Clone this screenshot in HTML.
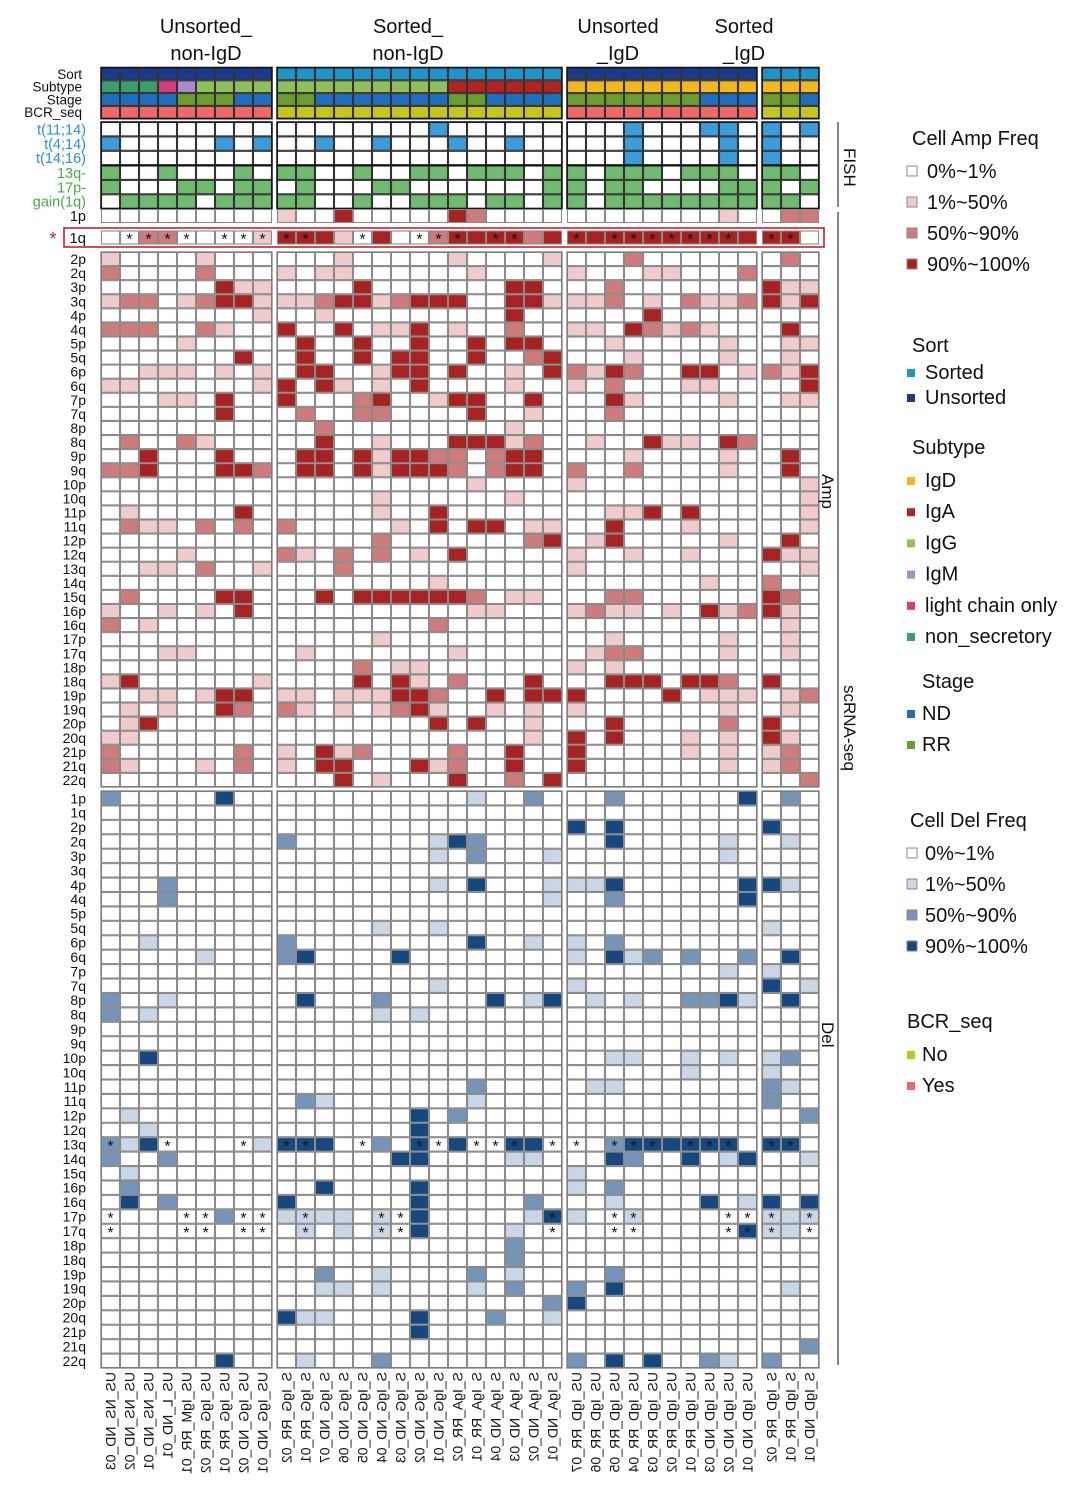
<!DOCTYPE html>
<html><head><meta charset="utf-8">
<style>
html,body{margin:0;padding:0;background:#fff;}
svg{display:block;font-family:"Liberation Sans",Arial,sans-serif;}
</style></head>
<body>
<svg id="chart" width="1083" height="1494" viewBox="0 0 1083 1494" xmlns="http://www.w3.org/2000/svg">
  <g id="titles" font-size="20" text-anchor="middle" fill="#111">
    <text x="206" y="33">Unsorted_</text>
    <text x="206" y="60">non-IgD</text>
    <text x="408" y="33">Sorted_</text>
    <text x="408" y="60">non-IgD</text>
    <text x="618" y="33">Unsorted</text>
    <text x="618" y="60">_IgD</text>
    <text x="744" y="33">Sorted</text>
    <text x="744" y="60">_IgD</text>
  </g>
  <g id="cells"></g>
  <g id="labels"></g>
  <g id="side" font-size="17" fill="#111">
    <line x1="838" y1="122" x2="838" y2="207" stroke="#333" stroke-width="1.2"/>
    <line x1="838" y1="212" x2="838" y2="1365" stroke="#333" stroke-width="1.2"/>
    <text transform="translate(844,148) rotate(90)">FISH</text>
    <text transform="translate(822,474) rotate(90)">Amp</text>
    <text transform="translate(822,1022) rotate(90)">Del</text>
    <text transform="translate(844,685) rotate(90)">scRNA-seq</text>
  </g>
  <rect x="64" y="228" width="760" height="19" fill="none" stroke="#c8202a" stroke-width="1.6"/>
  <text x="53" y="245" fill="#c8202a" font-size="18" text-anchor="middle">*</text>
  <g id="legend"></g>
</svg>
<script>
// ---- data ----
const samples = ["US_NS_ND_03","US_NS_ND_02","US_NS_ND_01","US_L_ND_01","US_IgM_RR_01","US_IgG_RR_02","US_IgG_RR_01","US_IgG_ND_02","US_IgG_ND_01",
"S_IgG_RR_02","S_IgG_RR_01","S_IgG_ND_07","S_IgG_ND_06","S_IgG_ND_05","S_IgG_ND_04","S_IgG_ND_03","S_IgG_ND_02","S_IgG_ND_01","S_IgA_RR_02","S_IgA_RR_01","S_IgA_ND_04","S_IgA_ND_03","S_IgA_ND_02","S_IgA_ND_01",
"US_IgD_RR_07","US_IgD_RR_06","US_IgD_RR_05","US_IgD_RR_04","US_IgD_RR_03","US_IgD_RR_02","US_IgD_RR_01","US_IgD_ND_03","US_IgD_ND_02","US_IgD_ND_01",
"S_IgD_RR_02","S_IgD_RR_01","S_IgD_ND_01"];
const groupSizes = [9,15,10,3];
const sortAnno = "UUUUUUUUU"+"SSSSSSSSSSSSSSS"+"UUUUUUUUUU"+"SSS";
const subtypeAnno = "NNNLMGGGG"+"GGGGGGGGGAAAAAA"+"DDDDDDDDDD"+"DDD";
const stageAnno = "NNNNRRRNN"+"RRNNNNNNNRRNNNN"+"RRRRRRRNNN"+"RRN";
const bcrAnno = "YYYYYYYYY"+"NNNNNNNNNNNNNNN"+"YYYYYYYYYY"+"NNN";
const fishLabels = ["t(11;14)","t(4;14)","t(14;16)"];
const fishRows = [
 "000000000"+"000000001000000"+"0001000110"+"101",
 "100000101"+"001001000100100"+"0001000010"+"100",
 "000000000"+"000000000000000"+"0001000010"+"100"];
const cnaFishLabels = ["13q-","17p-","gain(1q)"];
const cnaFishRows = [
 "100100010"+"110010011011101"+"1011101110"+"110",
 "100011011"+"010001100000001"+"1011000011"+"101",
 "011110111"+"110010011101101"+"1011111111"+"110"];
const amp1pRow = "000000000"+"100300000320000"+"0000000010"+"022";
const amp1qRow = "002200001"+"333103002333323"+"3333333333"+"330";
const amp1qStars = [1,2,3,4,6,7,8,9,10,13,16,17,18,20,21,24,26,27,28,29,30,31,32,34,35];
const ampLabels = ["2p","2q","3p","3q","4p","4q","5p","5q","6p","6q","7p","7q","8p","8q","9p","9q","10p","10q","11p","11q","12p","12q","13q","14q","15q","16p","16q","17p","17q","18p","18q","19p","19q","20p","20q","21p","21q","22q"];
const ampLevels = [
"100001000"+"000100000100001"+"0002000000"+"020",
"200002000"+"101100000010000"+"1000110002"+"000",
"000000311"+"000030000000330"+"0020000000"+"311",
"122012331"+"112331233300331"+"1120102112"+"313",
"000000001"+"001000000000300"+"0000300000"+"000",
"222002100"+"300301130100200"+"1103212100"+"030",
"000010000"+"030030030030330"+"0010000010"+"011",
"000000030"+"030030330030023"+"0001000010"+"010",
"001110101"+"033001330300103"+"2132003301"+"213",
"110000001"+"303101030000100"+"1020001100"+"003",
"000110300"+"300023001330030"+"0031000010"+"011",
"000000300"+"020022000030010"+"0020000000"+"000",
"000000000"+"002000000000100"+"0000000000"+"000",
"020021000"+"003001000333120"+"0100311032"+"000",
"003000300"+"033031332202330"+"0001000010"+"030",
"223000332"+"033031333202330"+"2002000010"+"030",
"000000000"+"000000000010000"+"1000000000"+"001",
"000000000"+"000001000000100"+"0000000000"+"001",
"010000030"+"000001003000000"+"0011303000"+"001",
"021102020"+"200000103033011"+"0030001000"+"001",
"000000000"+"000002000000023"+"0130000010"+"030",
"000010000"+"210202010300000"+"1001001000"+"311",
"001102001"+"000200000000000"+"1000000000"+"001",
"000000000"+"000000001000000"+"0000000100"+"200",
"020000330"+"003033333320110"+"0022000000"+"320",
"100101030"+"000000000011000"+"1211010312"+"310",
"201000000"+"000000002000000"+"0000000000"+"010",
"000000000"+"000001000000000"+"0010000010"+"010",
"000110000"+"010000000100000"+"0122000010"+"010",
"000000000"+"000020110000000"+"1010000000"+"000",
"130000001"+"000030310200030"+"0033303320"+"300",
"001101330"+"110111332003033"+"3000030111"+"012",
"010100320"+"210101231001010"+"1000000010"+"010",
"013000000"+"000000003030010"+"0030000020"+"300",
"110000000"+"000000000000010"+"3030001010"+"310",
"200000020"+"103120000200300"+"3000001010"+"120",
"210001020"+"103300031200300"+"3000000010"+"120",
"000000000"+"000301000300203"+"0000000000"+"002"];
const delLabels = ["1p","1q","2p","2q","3p","3q","4p","4q","5p","5q","6p","6q","7p","7q","8p","8q","9p","9q","10p","10q","11p","11q","12p","12q","13q","14q","15q","16p","16q","17p","17q","18p","18q","19p","19q","20p","20q","21p","21q","22q"];
const delLevels = [
"200000300"+"000000000010020"+"0020000003"+"020",
"000000000"+"000000000000000"+"0000000000"+"000",
"000000000"+"000000000000000"+"3030000000"+"300",
"000000000"+"200000001320000"+"0030000010"+"010",
"000000000"+"000000001020001"+"0000000010"+"000",
"000000000"+"000000000000000"+"0000000000"+"000",
"000200000"+"000000001030001"+"1130000003"+"310",
"000200000"+"000000000000001"+"0020000003"+"000",
"000000000"+"000000000000000"+"0000000000"+"000",
"000000000"+"000001001000000"+"0000000000"+"100",
"001000000"+"200000000030010"+"1020000000"+"000",
"000001000"+"230000300000000"+"1031202002"+"030",
"000000000"+"000000000000000"+"0000000010"+"100",
"000000000"+"000000001000000"+"1000000000"+"301",
"200100000"+"030002000003013"+"0101002231"+"030",
"201000000"+"000001010000000"+"0000000000"+"000",
"000000000"+"000000000000000"+"0000000000"+"000",
"000000000"+"000000000000000"+"0000000000"+"000",
"003000000"+"000000000000000"+"0011001010"+"120",
"000000000"+"000000000000000"+"0000001000"+"100",
"000000000"+"000000000020000"+"0110000000"+"210",
"000000000"+"021000000010000"+"0000000000"+"200",
"010000000"+"000000030200000"+"0000000000"+"002",
"001000000"+"000000030000000"+"0000000000"+"000",
"213000001"+"333002030300330"+"0023333330"+"330",
"200200000"+"000000330000110"+"0032003013"+"001",
"010000000"+"000000000000000"+"1000000000"+"000",
"020000000"+"003000030000000"+"1020000000"+"000",
"030200000"+"300000030000020"+"0010000301"+"303",
"000000200"+"111101030000013"+"1001000000"+"111",
"000000000"+"010101030000100"+"0000000003"+"110",
"000000000"+"000000000000200"+"0000000000"+"000",
"000000000"+"000000000000200"+"0000000000"+"000",
"000000000"+"002001000020100"+"0020000000"+"000",
"000000000"+"001101000010200"+"2030000000"+"010",
"000000000"+"000000000000002"+"3000000000"+"000",
"000000000"+"311000030002001"+"0000000000"+"000",
"000000000"+"000000030000000"+"0000000000"+"000",
"000000000"+"000000000000000"+"0000000000"+"002",
"000000300"+"010002000000000"+"2030300210"+"200"];
const del13qStars = [0,3,7,9,10,13,16,17,19,20,21,23,24,26,27,28,30,31,32,34,35];
const del17pStars = [0,4,5,7,8,10,14,15,23,26,27,32,33,34,36];
const del17qStars = [0,4,5,7,8,10,14,15,23,26,27,32,33,34,36];

// ---- drawing ----
const NS="http://www.w3.org/2000/svg";
const cells=document.getElementById('cells');
const labels=document.getElementById('labels');
const groupStart=[101,277,567,762];
const CW=19;
const groupOf=[];const idxIn=[];
groupSizes.forEach((n,g)=>{for(let i=0;i<n;i++){groupOf.push(g);idxIn.push(i);}});
function colX(c){return groupStart[groupOf[c]]+idxIn[c]*CW;}
const ampColors=["#ffffff","#f0cbcb","#cd7b7b","#a82222"];
const delColors=["#ffffff","#c9d6e6","#7594b9","#15487f"];
const annoColors={U:"#1a3a8c",S:"#1f94c8",N:"#3c9d6c",L:"#d93a7b",M:"#a98bc9",G:"#8fc05a",A:"#b42222",D:"#f4b71c"};
function mk(tag,attrs,parent){const e=document.createElementNS(NS,tag);for(const k in attrs)e.setAttribute(k,attrs[k]);parent.appendChild(e);return e;}
function cell(c,y,h,fill,stroke,name){
  const r=mk('rect',{x:colX(c)+0.5,y:y+0.5,width:CW-1,height:h-1,fill:fill,stroke:stroke,'stroke-width':1.1},cells);
  
  
  return r;
}
function star(c,y,h){
  const t=mk('text',{x:colX(c)+CW/2,y:y+h/2+7,'text-anchor':'middle','font-size':16,fill:'#111'},cells);
  t.textContent='*';
  
  
}
function rowLabel(txt,y,h,color,size,xr){
  const t=mk('text',{x:xr,y:y+h/2+size*0.36,'text-anchor':'end','font-size':size,fill:color},labels);
  t.textContent=txt;
  
  
}
function groupBox(y,h,stroke,sw){
  groupSizes.forEach((n,g)=>{
    const b=mk('rect',{x:groupStart[g],y:y,width:n*CW,height:h,fill:'none',stroke:stroke,'stroke-width':sw},cells);
    
    
  });
}
const N=samples.length;
const annoTop=67.5, AH=12.8;
const annoRows=[["Sort",sortAnno,""],["Subtype",subtypeAnno,""],["Stage",stageAnno,"st"],["BCR_seq",bcrAnno,"b"]];
annoRows.forEach((ar,ri)=>{
  const y=annoTop+ri*AH;
  for(let c=0;c<N;c++){
    let k=ar[1][c];
    let col;
    if(ar[2]==="st") col = k==="N"?"#1f6fc0":"#6a9e2e";
    else if(ar[2]==="b") col = k==="Y"?"#f06868":"#c5c51c";
    else col=annoColors[k];
    cell(c,y,AH,col,"#333",'anno-'+ar[0].toLowerCase()+'-cell');
  }
  rowLabel(ar[0],y,AH,"#111",13.5,82);
});
groupBox(annoTop,AH*4,"#111",1.5);
const fishTop=122, FH=14.4;
fishRows.forEach((row,ri)=>{
  const y=fishTop+ri*FH;
  for(let c=0;c<N;c++) cell(c,y,FH,row[c]==="1"?"#3a9cdb":"#fff","#333",'fish-translocation-cell');
  rowLabel(fishLabels[ri],y,FH,"#2a8fd6",14.5,86);
});
groupBox(fishTop,FH*3,"#111",1.5);
const cfTop=165.5;
cnaFishRows.forEach((row,ri)=>{
  const y=cfTop+ri*FH;
  for(let c=0;c<N;c++) cell(c,y,FH,row[c]==="1"?"#6fbb6f":"#fff","#333",'fish-cna-cell');
  rowLabel(cnaFishLabels[ri],y,FH,"#4aa84a",14.5,86);
});
groupBox(cfTop,FH*3,"#111",1.5);
const RH1=14;
for(let c=0;c<N;c++) cell(c,209,RH1,ampColors[+amp1pRow[c]],"#8a8a8a",'amp-1p-cell');
rowLabel("1p",209,RH1,"#111",14.5,86);
for(let c=0;c<N;c++) cell(c,230.5,RH1,ampColors[+amp1qRow[c]],"#8a8a8a",'amp-1q-cell');
amp1qStars.forEach(c=>star(c,230.5,RH1));
rowLabel("1q",230.5,RH1,"#111",15,86);
const ampTop=252, AMH=(787-252)/ampLabels.length;
ampLevels.forEach((row,ri)=>{
  const y=ampTop+ri*AMH;
  for(let c=0;c<N;c++) cell(c,y,AMH,ampColors[+row[c]],"#8a8a8a",'amp-cell-'+ampLabels[ri]);
  rowLabel(ampLabels[ri],y,AMH,"#111",14,86);
});
groupBox(ampTop,AMH*ampLabels.length,"#777",1.2);
const delTop=791, DH=(1368-791)/delLabels.length;
delLevels.forEach((row,ri)=>{
  const y=delTop+ri*DH;
  for(let c=0;c<N;c++) cell(c,y,DH,delColors[+row[c]],"#8a8a8a",'del-cell-'+delLabels[ri]);
  rowLabel(delLabels[ri],y,DH,"#111",14,86);
});
const starMap={"13q":del13qStars,"17p":del17pStars,"17q":del17qStars};
for(const k in starMap){const ri=delLabels.indexOf(k);starMap[k].forEach(c=>star(c,delTop+ri*DH,DH));}
groupBox(delTop,DH*delLabels.length,"#777",1.2);
samples.forEach((s,c)=>{
  const x=colX(c)+CW/2+5;
  const t=mk('text',{transform:`translate(${x},1372) rotate(90) scale(1,-1)`,'font-size':14,fill:'#111'},labels);
  t.textContent=s;
  
  
});
const legend=document.getElementById('legend');
function ltitle(txt,x,y){const t=mk('text',{x:x,y:y,'font-size':20,fill:'#111'},legend);t.textContent=txt;
  
  }
function litem(txt,col,sx,tx,y,size,border){
  const r=mk('rect',{x:sx,y:y-size+1,width:size,height:size,fill:col,stroke:border,'stroke-width':1},legend);
  
  
  const t=mk('text',{x:tx,y:y+3,'font-size':20,fill:'#111'},legend);t.textContent=txt;
  
  
}
ltitle("Cell Amp Freq",912,145);
["0%~1%","1%~50%","50%~90%","90%~100%"].forEach((s,i)=>litem(s,ampColors[i],907,927,175+i*31,10,"#888"));
ltitle("Sort",912,352);
litem("Sorted","#1f94c8",907,925,376,8,"none");
litem("Unsorted","#1a3a8c",907,925,401,8,"none");
ltitle("Subtype",912,454);
[["IgD","#f4b71c"],["IgA","#b42222"],["IgG","#8fc05a"],["IgM","#a98bc9"],["light chain only","#d93a7b"],["non_secretory","#3c9d6c"]].forEach((d,i)=>litem(d[0],d[1],907,925,484+i*31.2,8,"none"));
ltitle("Stage",922,688);
litem("ND","#1f6fc0",907,922,717,8,"none");
litem("RR","#6a9e2e",907,922,748,8,"none");
ltitle("Cell Del Freq",910,827);
["0%~1%","1%~50%","50%~90%","90%~100%"].forEach((s,i)=>litem(s,delColors[i],907,925,857+i*31,10,"#888"));
ltitle("BCR_seq",907,1028);
litem("No","#c5c51c",907,922,1058,8,"none");
litem("Yes","#f06868",907,922,1089,8,"none");
</script>
</body></html>
